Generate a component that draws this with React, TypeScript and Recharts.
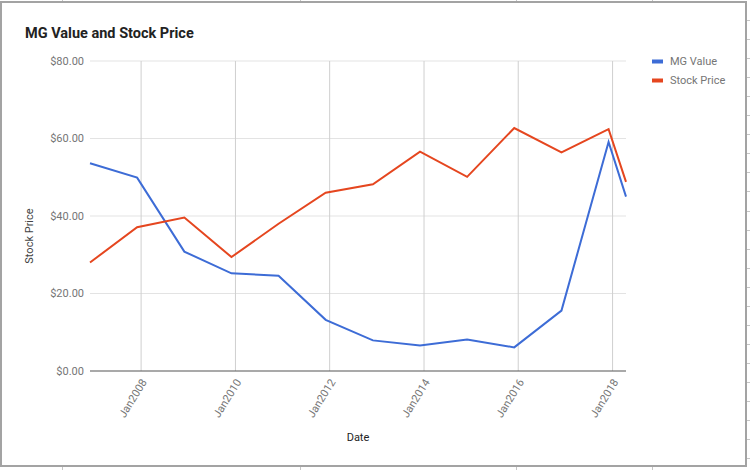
import React from 'react';
import { LineChart, Line, XAxis, YAxis, Label, ReferenceLine } from 'recharts';

const dates = [
  '2006-12-01', '2007-12-01', '2008-12-01', '2009-12-01', '2010-12-01', '2011-12-01',
  '2012-12-01', '2013-12-01', '2014-12-01', '2015-12-01', '2016-12-01', '2017-12-01', '2018-04-15',
];
const mgValue = [53.6, 49.9, 30.8, 25.2, 24.6, 13.2, 7.9, 6.6, 8.1, 6.1, 15.6, 59.1, 45.0];
const stockPrice = [28.0, 37.1, 39.6, 29.4, 38.0, 46.0, 48.2, 56.6, 50.1, 62.7, 56.4, 62.4, 48.8];
const xTickDates = ['2008-01-01', '2010-01-01', '2012-01-01', '2014-01-01', '2016-01-01', '2018-01-01'];
const yTicks = [0, 20, 40, 60, 80];
const seriesNames = ['MG Value', 'Stock Price'];
const seriesColors = ['#3d6cd6', '#e5461f'];
const title = 'MG Value and Stock Price';
const xTitle = 'Date';
const yTitle = 'Stock Price';

const toTs = (d: string) => Date.parse(d + 'T00:00:00Z');
const data = dates.map((d, i) => ({ t: toTs(d), mg: mgValue[i], sp: stockPrice[i] }));
const xTicks = xTickDates.map(toTs);

const FONT = 'Roboto, Arial, sans-serif';

const fmtX = (v: number) => 'Jan' + new Date(v).getUTCFullYear();
const fmtY = (v: number) => '$' + v.toFixed(2);

const XTick = (props: any) => {
  const { x, y, payload } = props;
  const ax = x + 3;
  const ay = y + 9;
  return (
    <text
      x={ax}
      y={ay}
      dy="0.35em"
      transform={`rotate(-58, ${ax}, ${ay})`}
      textAnchor="end"
      fill="#757575"
      fontSize={11}
      fontFamily={FONT}
    >
      {fmtX(payload.value)}
    </text>
  );
};

const XTitle = (props: any) => {
  const vb = props.viewBox || {};
  return (
    <text x={vb.x + vb.width / 2} y={vb.y + 66} dy="0.35em" textAnchor="middle" fill="#222" fontSize={11} fontFamily={FONT}>
      {xTitle}
    </text>
  );
};

const YTitle = (props: any) => {
  const vb = props.viewBox || {};
  const cx = vb.x - 1;
  const cy = vb.y + vb.height / 2 + 20;
  return (
    <text x={cx} y={cy} dy="0.35em" transform={`rotate(-90, ${cx}, ${cy})`} textAnchor="middle" fill="#444" fontSize={11} fontFamily={FONT}>
      {yTitle}
    </text>
  );
};

const markColor = '#c6c6c6';
const colMarks = [62, 300, 516, 652];
const rowMarks = Array.from({ length: 24 }, (_, k) => 20 + k * 19.05);

export default function App() {
  return (
    <div style={{ position: 'absolute', left: 0, top: 0, width: 750, height: 470, background: '#fff', overflow: 'hidden' }}>
      <LineChart width={750} height={470} data={data} margin={{ top: 61, right: 124, bottom: 39, left: 30 }}>
        {yTicks.filter((v) => v > 0).map((v) => (
          <ReferenceLine key={'h' + v} y={v} stroke="#e3e3e3" strokeWidth={1.2} />
        ))}
        {xTicks.map((t) => (
          <ReferenceLine key={t} x={t} stroke="#cfcfcf" strokeWidth={1} />
        ))}
        <XAxis
          dataKey="t"
          type="number"
          scale="linear"
          domain={['dataMin', 'dataMax']}
          ticks={xTicks}
          tick={<XTick />}
          tickLine={false}
          tickSize={0}
          tickMargin={0}
          height={60}
          axisLine={{ stroke: '#555', strokeWidth: 1.2 }}
          interval={0}
        >
          <Label content={<XTitle />} />
        </XAxis>
        <YAxis
          type="number"
          domain={[0, 80]}
          ticks={yTicks}
          tickFormatter={fmtY}
          width={60}
          tickLine={false}
          tickSize={0}
          tickMargin={6}
          axisLine={{ stroke: 'transparent', strokeWidth: 0 }}
          tick={{ fill: '#757575', fontSize: 11, fontFamily: FONT }}
          interval={0}
        >
          <Label content={<YTitle />} />
        </YAxis>
        <Line type="linear" dataKey="mg" name={seriesNames[0]} stroke={seriesColors[0]} strokeWidth={2} dot={false} isAnimationActive={false} />
        <Line type="linear" dataKey="sp" name={seriesNames[1]} stroke={seriesColors[1]} strokeWidth={2} dot={false} isAnimationActive={false} />
      </LineChart>

      <svg width={750} height={470} style={{ position: 'absolute', left: 0, top: 0, pointerEvents: 'none' }}>
        <text x={25} y={38} fontSize={14.5} fontWeight={700} fontFamily={FONT} fill="#222">{title}</text>
        {seriesNames.map((n, i) => (
          <g key={n}>
            <rect x={652} y={59.5 + i * 19} width={11} height={4} fill={seriesColors[i]} />
            <text x={670} y={61.5 + i * 19} dy="0.35em" fontSize={11} fontFamily={FONT} fill="#757575">{n}</text>
          </g>
        ))}
      </svg>

      <div style={{ position: 'absolute', left: 0, top: 1, width: 747, height: 466, border: '2px solid #a3a3a3', boxSizing: 'border-box' }} />
      {colMarks.map((x) => (
        <React.Fragment key={x}>
          <div style={{ position: 'absolute', left: x, top: 0, width: 1, height: 1, background: markColor }} />
          <div style={{ position: 'absolute', left: x, top: 467, width: 1, height: 3, background: markColor }} />
        </React.Fragment>
      ))}
      {rowMarks.map((y) => (
        <div key={y} style={{ position: 'absolute', left: 747, top: Math.round(y), width: 3, height: 1, background: markColor }} />
      ))}
    </div>
  );
}
